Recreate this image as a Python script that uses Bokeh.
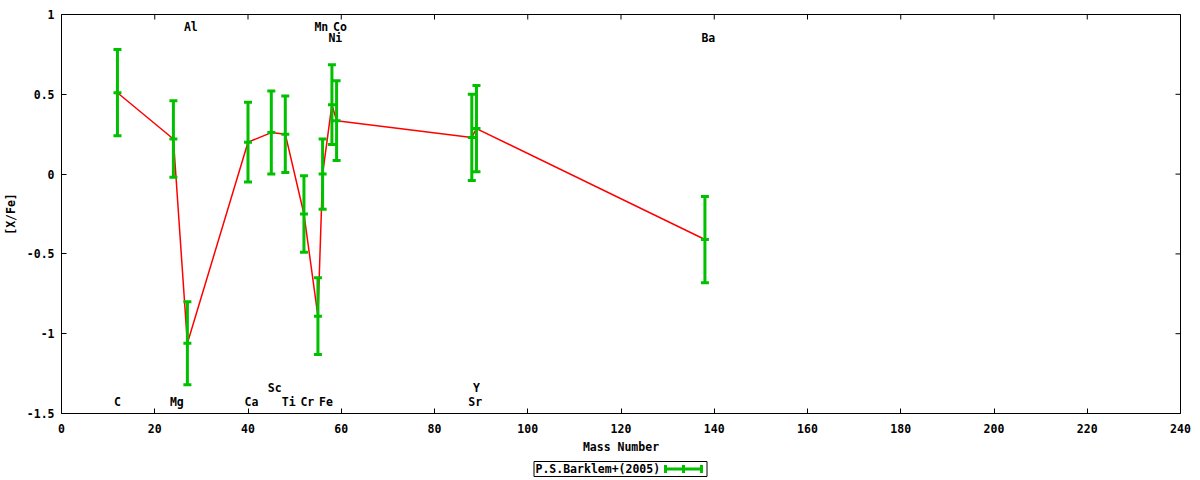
import math
from bokeh.plotting import figure
from bokeh.models import Range1d, FixedTicker
from bokeh.layouts import column
from bokeh.core.properties import value
from bokeh.embed import file_html
from bokeh.resources import INLINE

# ---- data ----
elements = ["C", "Mg", "Al", "Ca", "Sc", "Ti", "Cr", "Mn", "Fe", "Ni", "Co", "Sr", "Y", "Ba"]
mass_number = [12, 24, 27, 40, 45, 48, 52, 55, 56, 58, 59, 88, 89, 138]
x_fe = [0.51, 0.22, -1.06, 0.20, 0.26, 0.25, -0.25, -0.89, 0.0, 0.435, 0.335, 0.23, 0.285, -0.41]
x_fe_err = [0.27, 0.24, 0.26, 0.25, 0.26, 0.24, 0.24, 0.24, 0.22, 0.25, 0.25, 0.27, 0.27, 0.27]
label_row = ["b1", "b1", "t1", "b1", "b2", "b1", "b1", "t1", "b1", "t2", "t1", "b1", "b2", "t2"]

x_ticks = [0, 20, 40, 60, 80, 100, 120, 140, 160, 180, 200, 220, 240]
x_tick_labels = ["0", "20", "40", "60", "80", "100", "120", "140", "160", "180", "200", "220", "240"]
y_ticks = [-1.5, -1.0, -0.5, 0.0, 0.5, 1.0]
y_tick_labels = ["-1.5", "-1", "-0.5", "0", "0.5", "1"]
series_name = "P.S.Barklem+(2005)"

# ---- styling / layout ----
FONT = value("DejaVu Sans Mono")
FS = "11.5px"
GREEN = "#00c000"
RED = "#ff0000"
ROW_Y = {"t1": 0.92, "t2": 0.85, "b2": -1.34, "b1": -1.43}
W = 1200
MAIN_H = 460
LEG_H = 20
FRAME_L, FRAME_R = 61, 1180

p = figure(width=W, height=MAIN_H, x_range=Range1d(0, 240), y_range=Range1d(-1.5, 1),
           output_backend="svg", toolbar_location=None,
           min_border_left=FRAME_L, min_border_right=W - FRAME_R,
           min_border_top=14, min_border_bottom=47)
p.grid.visible = False
p.outline_line_color = "black"
p.outline_line_width = 1

p.xaxis.ticker = FixedTicker(ticks=x_ticks)
p.xaxis.major_label_overrides = {t: l for t, l in zip(x_ticks, x_tick_labels)}
p.yaxis.ticker = FixedTicker(ticks=y_ticks)
p.yaxis.major_label_overrides = {t: l for t, l in zip(y_ticks, y_tick_labels)}
p.xaxis.axis_label = "Mass Number"
p.yaxis.axis_label = "[X/Fe]"
for ax in (p.xaxis[0], p.yaxis[0]):
    ax.major_label_text_font = "DejaVu Sans Mono"
    ax.major_label_text_font_size = FS
    ax.major_label_text_font_style = "bold"
    ax.major_label_text_color = "black"
    ax.axis_label_text_font = "DejaVu Sans Mono"
    ax.axis_label_text_font_size = FS
    ax.axis_label_text_font_style = "bold"
    ax.axis_label_text_color = "black"
    ax.major_tick_in = 5
    ax.major_tick_out = 0
    ax.minor_tick_in = 0
    ax.minor_tick_out = 0
    ax.axis_line_color = None
    ax.major_tick_line_color = "black"
p.xaxis.major_label_standoff = 10
p.xaxis.axis_label_standoff = 4
p.yaxis.major_label_standoff = 7
p.yaxis.axis_label_standoff = 6

# mirrored inward ticks on the top and right edges (half of each dash is clipped by the frame)
p.scatter(x_ticks, [1.0] * len(x_ticks), marker="dash", size=10, angle=math.pi / 2,
          line_color="black", line_width=1)
p.scatter([240] * len(y_ticks), y_ticks, marker="dash", size=10,
          line_color="black", line_width=1)

lo = [v - e for v, e in zip(x_fe, x_fe_err)]
hi = [v + e for v, e in zip(x_fe, x_fe_err)]

p.line(mass_number, x_fe, line_color=RED, line_width=1.5)
p.segment(x0=mass_number, y0=lo, x1=mass_number, y1=hi, line_color=GREEN, line_width=3)
for ys in (lo, hi, x_fe):
    p.scatter(mass_number, ys, marker="dash", size=8, line_color=GREEN, line_width=3)

p.text(x=mass_number, y=[ROW_Y[r] for r in label_row], text=elements,
       text_align="left", text_baseline="middle", x_offset=-3.5,
       text_font=FONT, text_font_size=FS, text_font_style="bold", text_color="black")

# ---- legend panel (label first, then error-bar sample, inside a box) ----
# its frame is aligned with the main frame, so x is in canvas pixels from FRAME_L to FRAME_R
lg = figure(width=W, height=LEG_H, x_range=Range1d(FRAME_L, FRAME_R), y_range=Range1d(0, LEG_H),
            output_backend="svg", toolbar_location=None, min_border=0,
            min_border_left=FRAME_L, min_border_right=W - FRAME_R,
            x_axis_location=None, y_axis_location=None)
lg.grid.visible = False
lg.outline_line_color = None
box_l, box_r, box_b, box_t = 533.5, 706.5, 4, 19
mid = (box_b + box_t) / 2
lg.quad(left=[box_l], right=[box_r], bottom=[box_b], top=[box_t],
        fill_color=None, line_color="black", line_width=1)
lg.text(x=[box_l + 1.5], y=[mid], text=[series_name], text_align="left",
        text_baseline="middle", text_font=FONT, text_font_size=FS,
        text_font_style="bold", text_color="black")
s0, s1 = 665, 701
lg.segment(x0=[s0], y0=[mid], x1=[s1], y1=[mid], line_color=GREEN, line_width=3)
sx = [s0, (s0 + s1) / 2, s1]
lg.segment(x0=sx, y0=[mid - 4] * 3, x1=sx, y1=[mid + 4] * 3,
           line_color=GREEN, line_width=3)

layout = column(p, lg, spacing=0)
open("out.html", "w").write(file_html(layout, INLINE))
